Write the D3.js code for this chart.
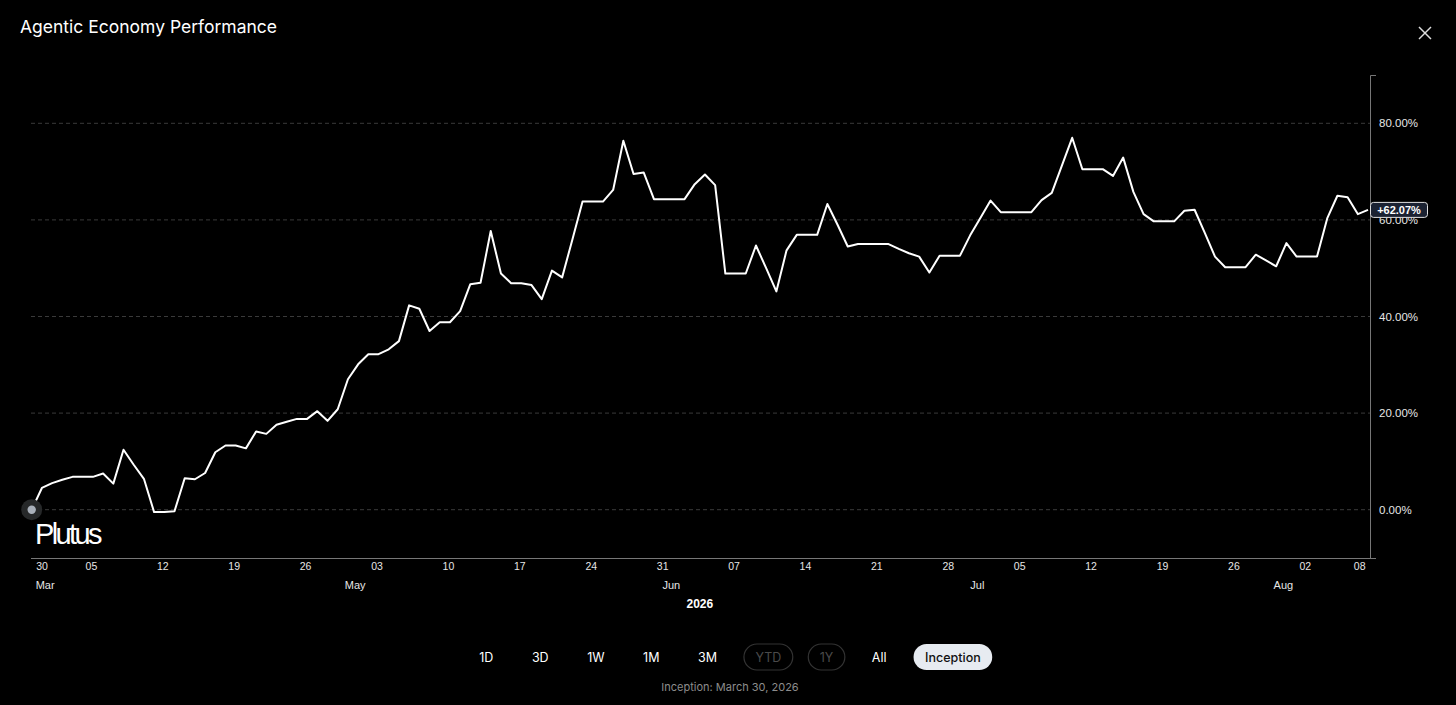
<!DOCTYPE html>
<html>
<head>
<meta charset="utf-8">
<script src="https://cdn.jsdelivr.net/npm/d3@7"></script>
<style>
  html, body { margin: 0; padding: 0; background: #000; overflow: hidden; }
  svg { display: block; }
</style>
</head>
<body>
<svg id="chart" width="1456" height="705"></svg>
<script>
// daily cumulative return (%), Mar 30 -> Aug 8, 2026
const START_DATE = "2026-03-30"
const END_DATE = "2026-08-08"
const marValues = [0, 4.5]
const aprValues = [5.5, 6.2, 6.8, 6.8, 6.8, 7.5, 5.4, 12.4, 9.3, 6.4, -0.5, -0.5, -0.3, 6.5, 6.3,
  7.6, 11.9, 13.3, 13.3, 12.7, 16.2, 15.7, 17.6, 18.2, 18.8, 18.8, 20.4, 18.4, 20.8, 27.0]
const mayValues = [30.1, 32.2, 32.2, 33.2, 34.9, 42.3, 41.6, 37.0, 38.8, 38.8, 41.1, 46.7, 47.0, 57.7, 48.9,
  46.9, 46.9, 46.5, 43.6, 49.5, 48.1, 55.9, 63.8, 63.8, 63.8, 66.2, 76.4, 69.5, 69.8, 64.3, 64.3]
const junValues = [64.3, 64.3, 67.4, 69.4, 67.2, 48.9, 48.9, 48.9, 54.7, 50.0, 45.2, 53.7, 56.9, 56.9, 56.9,
  63.3, 59.0, 54.5, 55.0, 55.0, 55.0, 55.0, 54.0, 53.1, 52.4, 49.1, 52.6, 52.6, 52.6, 56.8]
const julValues = [60.4, 64.0, 61.6, 61.6, 61.6, 61.6, 64.1, 65.6, 71.3, 77.0, 70.5, 70.5, 70.5, 69.1, 72.9,
  65.8, 61.2, 59.7, 59.7, 59.7, 61.9, 62.1, 57.3, 52.4, 50.2, 50.2, 50.2, 52.8, 51.6, 50.4, 55.2]
const augValues = [52.4, 52.4, 52.4, 60.3, 65.0, 64.7, 61.2, 62.07]

const yTicks = [0, 20, 40, 60, 80]
const dayTicks = ["2026-03-30", "2026-04-05", "2026-04-12", "2026-04-19", "2026-04-26", "2026-05-03",
  "2026-05-10", "2026-05-17", "2026-05-24", "2026-05-31", "2026-06-07", "2026-06-14", "2026-06-21",
  "2026-06-28", "2026-07-05", "2026-07-12", "2026-07-19", "2026-07-26", "2026-08-02", "2026-08-08"]
const monthDates = ["2026-03-30", "2026-05-01", "2026-06-01", "2026-07-01", "2026-07-31"]
const monthNames = ["Mar", "May", "Jun", "Jul", "Aug"]
const rangeButtons = ["1D", "3D", "1W", "1M", "3M", "YTD", "1Y", "All", "Inception"]
const disabledButtons = ["YTD", "1Y"]
const activeButton = "Inception"

const parse = d3.utcParse("%Y-%m-%d")
const values = [].concat(marValues, aprValues, mayValues, junValues, julValues, augValues)
const dates = d3.utcDay.range(parse(START_DATE), d3.utcDay.offset(parse(END_DATE), 1))
const data = dates.map((d, i) => ({ date: d, value: values[i] }))

const AXIS_FONT = "'Liberation Sans', Arial, Helvetica, sans-serif"
const UI_FONT = "Inter, 'Liberation Sans', sans-serif"

const svg = d3.select("#chart")
const yAxisX = 1370
const plotTop = 75
const plotBottom = 558

const x = d3.scaleUtc()
  .domain([parse(START_DATE), parse(END_DATE)])
  .range([31.7, 1368])

const y = d3.scaleLinear()
  .domain([-10, 90])
  .range([plotBottom, plotTop])

// title + close
svg.append("text")
  .attr("x", 20).attr("y", 33)
  .attr("fill", "#fff")
  .style("font-family", UI_FONT)
  .style("font-size", "17.5px")
  .text("Agentic Economy Performance")

const close = svg.append("g")
  .attr("transform", "translate(1425,33)")
  .attr("stroke", "#ddd")
  .attr("stroke-width", 1.5)
close.append("line").attr("x1", -6).attr("y1", -6).attr("x2", 6).attr("y2", 6)
close.append("line").attr("x1", -6).attr("y1", 6).attr("x2", 6).attr("y2", -6)

// grid
svg.append("g")
  .selectAll("line")
  .data(yTicks)
  .join("line")
  .attr("x1", 31).attr("x2", yAxisX)
  .attr("y1", d => y(d)).attr("y2", d => y(d))
  .attr("stroke", "#3a3a3a")
  .attr("stroke-dasharray", "4 3")

// y axis on the right
const yAxis = svg.append("g")
  .attr("transform", `translate(${yAxisX},0)`)
  .call(d3.axisRight(y)
    .tickValues(yTicks)
    .tickSizeInner(0)
    .tickSizeOuter(6)
    .tickPadding(9)
    .tickFormat(d => d.toFixed(2) + "%"))
yAxis.select(".domain").attr("stroke", "#777")
yAxis.selectAll("text")
  .attr("fill", "#e6e6e6")
  .style("font-family", AXIS_FONT)
  .style("font-size", "11.5px")

// x axis line
svg.append("line")
  .attr("x1", 31).attr("x2", yAxisX + 6)
  .attr("y1", plotBottom + 0.5).attr("y2", plotBottom + 0.5)
  .attr("stroke", "#777")

const xAxis = svg.append("g")
  .attr("transform", `translate(0,${plotBottom})`)
  .call(d3.axisBottom(x)
    .tickValues(dayTicks.map(parse))
    .tickSize(0)
    .tickPadding(5)
    .tickFormat(d3.utcFormat("%d")))
xAxis.select(".domain").remove()
xAxis.selectAll("text")
  .attr("fill", "#e6e6e6")
  .attr("dx", -2)
  .style("font-family", AXIS_FONT)
  .style("font-size", "10.5px")
xAxis.selectAll("text").filter((d, i) => i === 0)
  .attr("text-anchor", "start").attr("dx", 4)
xAxis.selectAll("text").filter((d, i) => i === dayTicks.length - 1)
  .attr("text-anchor", "end").attr("dx", -3)

svg.append("g")
  .selectAll("text")
  .data(monthDates.map((d, i) => ({ date: parse(d), name: monthNames[i] })))
  .join("text")
  .attr("x", d => x(d.date))
  .attr("dx", (d, i) => i === 0 ? 4 : -3)
  .attr("y", 589)
  .attr("text-anchor", (d, i) => i === 0 ? "start" : "middle")
  .attr("fill", "#e6e6e6")
  .style("font-family", AXIS_FONT)
  .style("font-size", "11px")
  .text(d => d.name)

svg.append("text")
  .attr("x", (x.range()[0] + x.range()[1]) / 2)
  .attr("y", 608)
  .attr("text-anchor", "middle")
  .attr("fill", "#fff")
  .style("font-family", AXIS_FONT)
  .style("font-size", "12px")
  .style("font-weight", "700")
  .text("2026")

// the line
const line = d3.line()
  .x(d => x(d.date))
  .y(d => y(d.value))

svg.append("path")
  .datum(data)
  .attr("d", line)
  .attr("fill", "none")
  .attr("stroke", "#fff")
  .attr("stroke-width", 2)
  .attr("stroke-linejoin", "round")

// start marker
const first = data[0]
svg.append("circle")
  .attr("cx", x(first.date)).attr("cy", y(first.value))
  .attr("r", 10.5)
  .attr("fill", "#262829")
svg.append("circle")
  .attr("cx", x(first.date)).attr("cy", y(first.value))
  .attr("r", 4.2)
  .attr("fill", "#a9b0ba")

svg.append("text")
  .attr("x", 35).attr("y", 544)
  .attr("fill", "#fff")
  .style("font-family", AXIS_FONT)
  .style("font-size", "29px")
  .style("letter-spacing", "-2.6px")
  .text("Plutus")

// last value badge
const last = data[data.length - 1]
const badge = svg.append("g")
  .attr("transform", `translate(${yAxisX},${y(last.value)})`)
badge.append("rect")
  .attr("x", 0.5).attr("y", -7.5)
  .attr("width", 57).attr("height", 15)
  .attr("rx", 3)
  .attr("fill", "#1b2232")
  .attr("stroke", "#e0e0e0")
badge.append("text")
  .attr("x", 29).attr("y", 4)
  .attr("text-anchor", "middle")
  .attr("fill", "#fff")
  .style("font-family", AXIS_FONT)
  .style("font-size", "11px")
  .style("font-weight", "700")
  .text((last.value >= 0 ? "+" : "") + last.value.toFixed(2) + "%")

// range buttons
const pad = 11.5
const gap = 15.5
const btns = svg.append("g")
const items = btns.selectAll("g")
  .data(rangeButtons)
  .join("g")
items.append("text")
  .attr("text-anchor", "middle")
  .attr("y", 4.5)
  .attr("fill", d => d === activeButton ? "#111" : disabledButtons.includes(d) ? "#4a4a4a" : "#fff")
  .style("font-family", UI_FONT)
  .style("font-size", "12.5px")
  .style("font-weight", d => d === activeButton ? "500" : "400")
  .text(d => d)

const widths = []
items.select("text").each(function () { widths.push(this.getComputedTextLength() + pad * 2) })
const total = d3.sum(widths) + gap * (widths.length - 1)
let cursor = 730 - total / 2
const centers = widths.map(w => { const c = cursor + w / 2; cursor += w + gap; return c })

items.attr("transform", (d, i) => `translate(${centers[i]},657)`)
items.filter(d => d === activeButton || disabledButtons.includes(d))
  .insert("rect", "text")
  .attr("x", d => -widths[rangeButtons.indexOf(d)] / 2)
  .attr("y", -13)
  .attr("width", d => widths[rangeButtons.indexOf(d)])
  .attr("height", 26)
  .attr("rx", 13)
  .attr("fill", d => d === activeButton ? "#e7ebf1" : "none")
  .attr("stroke", d => d === activeButton ? "none" : "#333")
  .attr("stroke-width", 1.2)

svg.append("text")
  .attr("x", 730).attr("y", 691)
  .attr("text-anchor", "middle")
  .attr("fill", "#8c8c8c")
  .style("font-family", UI_FONT)
  .style("font-size", "11px")
  .text("Inception: March 30, 2026")
</script>
</body>
</html>
